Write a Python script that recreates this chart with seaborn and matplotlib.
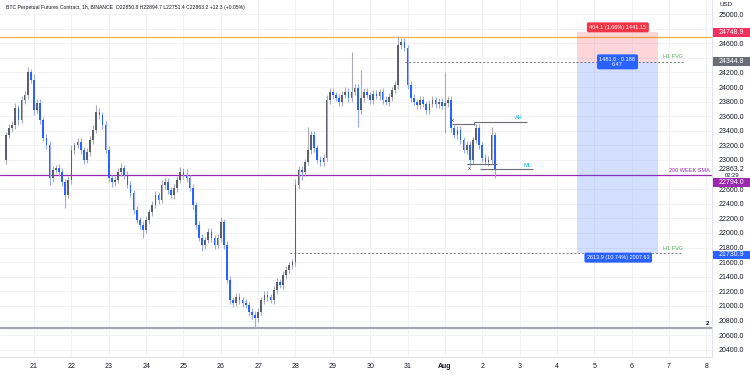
import matplotlib
matplotlib.use("Agg")
import matplotlib.pyplot as plt
import matplotlib.dates as mdates
from matplotlib.transforms import blended_transform_factory
from matplotlib.patches import Rectangle
import numpy as np
import pandas as pd
import seaborn as sns

# ---------------- data (2h candles) ----------------
first_open = 23000
closes = [
    23342, 23438, 23479, 23712, 23548, 23822, 23890, 24205, 24096, 23685,
    23781, 23548, 23301, 23205, 22753, 22863, 22890, 22836, 22699, 22520,
    22726, 23137, 23205, 23247, 23137, 23000, 23110, 23274, 23411, 23658,
    23616, 23479, 23137, 22753, 22699, 22726, 22836, 22890, 22794, 22657,
    22548, 22315, 22178, 22109, 22041, 22178, 22288, 22383, 22520, 22452,
    22657, 22699, 22589, 22520, 22616, 22726, 22836, 22794, 22753, 22616,
    22383, 22109, 21931, 21835, 21904, 22014, 21931, 21835, 21931, 22151,
    21835, 21356, 21082, 21041, 21123, 21082, 21041, 21013, 20918, 20876,
    20835, 20918, 21082, 21150, 21123, 21082, 21219, 21329, 21287, 21424,
    21490, 21560, 21600, 22657, 22863, 22836, 22973, 23137, 23342, 23164,
    23000, 22973, 23027, 23822, 23932, 23890, 23849, 23795, 23890, 23932,
    23849, 23932, 23986, 23685, 23849, 23932, 23890, 23822, 23904, 23877,
    23932, 23822, 23795, 23863, 23959, 24027, 24575, 24617, 24534, 24027,
    23849, 23795, 23753, 23822, 23767, 23685, 23767, 23822, 23767, 23795,
    23740, 23781, 23822, 23438, 23342, 23411, 23274, 23137, 23205, 23000,
    23274, 23438, 23205, 23027, 22973, 23000, 23342, 22863.2,
]
upper_wick = [
    40, 60, 50, 70, 40, 60, 50, 70, 40, 80,
    50, 60, 40, 50, 60, 50, 40, 60, 50, 40,
    60, 70, 40, 50, 60, 40, 50, 60, 70, 100,
    50, 40, 60, 50, 40, 50, 60, 70, 40, 50,
    60, 40, 50, 40, 50, 60, 40, 50, 60, 40,
    70, 50, 60, 40, 50, 60, 70, 50, 80, 40,
    50, 40, 60, 50, 40, 60, 50, 40, 60, 70,
    40, 50, 60, 40, 50, 60, 40, 50, 40, 60,
    50, 60, 40, 50, 60, 40, 50, 60, 40, 50,
    60, 40, 50, 80, 60, 50, 40, 315, 60, 50,
    40, 60, 50, 70, 60, 50, 40, 60, 50, 70,
    60, 550, 60, 50, 380, 60, 50, 40, 60, 50,
    40, 60, 50, 60, 40, 50, 120, 60, 50, 40,
    60, 50, 40, 60, 50, 40, 60, 50, 40, 60,
    50, 430, 60, 50, 40, 60, 50, 40, 60, 50,
    40, 60, 50, 40, 60, 50, 110, 40,
]
lower_wick = [
    50, 40, 60, 50, 70, 40, 50, 60, 40, 70,
    60, 50, 40, 60, 100, 50, 40, 60, 50, 180,
    40, 60, 50, 40, 60, 50, 40, 60, 50, 40,
    60, 50, 40, 60, 70, 50, 40, 60, 50, 40,
    50, 60, 40, 50, 110, 40, 60, 50, 40, 60,
    40, 50, 60, 40, 50, 60, 40, 50, 60, 40,
    60, 50, 40, 80, 60, 40, 50, 60, 40, 50,
    60, 40, 50, 60, 40, 50, 60, 40, 50, 60,
    140, 50, 40, 60, 50, 40, 60, 50, 40, 60,
    50, 40, 60, 50, 60, 110, 50, 40, 60, 50,
    40, 60, 50, 40, 60, 50, 40, 60, 50, 40,
    60, 50, 40, 230, 60, 50, 40, 60, 50, 40,
    60, 50, 40, 60, 50, 40, 60, 50, 40, 60,
    50, 40, 60, 50, 40, 60, 50, 40, 60, 50,
    40, 370, 60, 50, 40, 60, 50, 40, 60, 80,
    50, 40, 60, 50, 40, 60, 50, 112,
]
start_time = "2022-07-20 06:00"
candle_freq = "2h"

day_ticks = list(range(21, 40))
day_labels = ["21", "22", "23", "24", "25", "26", "27", "28", "29", "30", "31",
              "Aug", "2", "3", "4", "5", "6", "7", "8"]
price_ticks = np.arange(20400, 25001, 200)
hidden_price_ticks = [24800, 24400, 22800]   # covered by the price boxes

entry_price = 24344.8
stop_price = 24748.9
target_price = 21730.9
sma200_price = 22794.0
swing_high_line = 24680
range_low_line = 20698
last_price = 22863.2
ah_levels = [23493, 23521]
ml_levels = [22945, 22877]

title_text = ("BTC Perpetual Futures Contract, 1h, BINANCE  O22850.8 H22894.7 "
              "L22751.4 C22863.2 +12.3 (+0.05%)")

# ---------------- frame ----------------
sns.set_theme(style="white")
plt.rcParams['font.family'] = ['Liberation Sans', 'DejaVu Sans']

df = pd.DataFrame({
    "date": pd.date_range(start_time, periods=len(closes), freq=candle_freq),
    "open": [first_open] + closes[:-1],
    "close": closes,
    "uw": upper_wick,
    "lw": lower_wick,
})
df["high"] = df[["open", "close"]].max(axis=1) + df["uw"]
df["low"] = df[["open", "close"]].min(axis=1) - df["lw"]
df["up"] = df["close"] >= df["open"]
df["x"] = mdates.date2num(df["date"])

base = mdates.date2num(pd.Timestamp("2022-07-01"))
def jd(d):
    return base + d - 1

fig = plt.figure(figsize=(7.5, 3.75), dpi=100)
fig.patch.set_facecolor("white")
ax = fig.add_axes([0, 18 / 375, 712 / 750, 357 / 375])
ax.set_facecolor("white")
ymin, ymax = 20301, 25192
ax.set_ylim(ymin, ymax)
ax.set_xlim(jd(20.09), jd(39.15))
ppp = 357 / (ymax - ymin)  # pixels per price unit

# grid
for d in day_ticks:
    ax.axvline(jd(d), color="#f0f2f6", lw=0.7, zorder=0)
for p in price_ticks:
    ax.axhline(p, color="#f0f2f6", lw=0.7, zorder=0)

# candles
up_body, up_wick = "#5d606b", "#a9acb5"
dn_body, dn_wick = "#2962ff", "#94abff"
for is_up, bc, wc in [(True, up_body, up_wick), (False, dn_body, dn_wick)]:
    sub = df[df["up"] == is_up]
    ax.vlines(sub["x"], sub["low"], sub["high"], color=wc, lw=0.8, zorder=2)
    bottoms = sub[["open", "close"]].min(axis=1)
    heights = (sub["close"] - sub["open"]).abs().clip(lower=15)
    ax.bar(sub["x"], heights, bottom=bottoms, width=0.045, color=bc,
           edgecolor="none", zorder=3)

# horizontal levels
ax.axhline(swing_high_line, color="#ffb74d", lw=1.0, zorder=1)
ax.axhline(sma200_price, color="#9c27b0", lw=0.9, zorder=1)
ax.axhline(range_low_line, color="#a3a6af", lw=1.6, zorder=1)
ax.hlines(entry_price, jd(30.93), jd(38.37), color="#787b86", lw=0.7,
          linestyles=(0, (2, 2)), zorder=1)
ax.hlines(target_price, jd(27.85), jd(38.37), color="#787b86", lw=0.7,
          linestyles=(0, (2, 2)), zorder=1)

# position tool
ax.add_patch(Rectangle((jd(35.53), entry_price), jd(37.70) - jd(35.53),
                       stop_price - entry_price, fc="#f23645", alpha=0.2,
                       lw=0, zorder=1))
ax.add_patch(Rectangle((jd(35.53), target_price), jd(37.70) - jd(35.53),
                       entry_price - target_price, fc="#2962ff", alpha=0.2,
                       lw=0, zorder=1))
ax.text(jd(36.63), stop_price + 5 / ppp, "404.1 (1.66%) 1441.15", fontsize=4,
        color="white", ha="center", va="center", zorder=6,
        bbox=dict(boxstyle="round,pad=0.45,rounding_size=0.3", fc="#f23645", ec="none"))
ax.text(jd(36.62), entry_price, "1481.6 - 0.188\n6.47", fontsize=4,
        color="white", ha="center", va="center", linespacing=1.0, zorder=6,
        bbox=dict(boxstyle="round,pad=0.45,rounding_size=0.3", fc="#2962ff", ec="none"))
ax.text(jd(36.64), target_price - 5 / ppp, "2613.9 (10.74%) 2007.63", fontsize=4,
        color="white", ha="center", va="center", zorder=6,
        bbox=dict(boxstyle="round,pad=0.45,rounding_size=0.3", fc="#2962ff", ec="none"))

# labels on chart
ax.text(jd(37.84), entry_price + 5 / ppp, "H1 FVG", fontsize=4, color="#4caf50",
        ha="left", va="center", zorder=6)
ax.text(jd(37.84), target_price + 4 / ppp, "H1 FVG", fontsize=4, color="#4caf50",
        ha="left", va="center", zorder=6)
ax.text(jd(39.09), sma200_price + 5 / ppp, "200 WEEK SMA", fontsize=4,
        color="#9c27b0", ha="right", va="center", zorder=6)
ax.text(jd(39.08), range_low_line + 5 / ppp, "2", fontsize=4.5, color="#131722",
        fontweight="bold", ha="right", va="center", zorder=6)

# AH / ML structure
struct_col = "#6a6d78"
ax.hlines(ah_levels[0], jd(32.19), jd(32.80), color=struct_col, lw=0.8, zorder=4)
ax.hlines(ah_levels[1], jd(32.78), jd(34.20), color=struct_col, lw=0.8, zorder=4)
ax.vlines(jd(32.79), ah_levels[0] - 15, ah_levels[1], color=struct_col, lw=0.8, zorder=4)
ax.hlines(ml_levels[0], jd(32.59), jd(33.39), color=struct_col, lw=0.8, zorder=4)
ax.hlines(ml_levels[1], jd(32.94), jd(34.36), color=struct_col, lw=0.8, zorder=4)
ax.text(jd(33.98), ah_levels[1] + 4 / ppp, "AH", fontsize=4, color="#00bcd4",
        ha="center", va="center", zorder=6)
ax.text(jd(34.22), ml_levels[0] - 1 / ppp, "ML", fontsize=4, color="#00bcd4",
        ha="center", va="center", zorder=6)
ax.text(jd(32.21), ah_levels[1] + 1 / ppp, "x", fontsize=4.5, color="#434651",
        ha="center", va="center", zorder=6)
ax.text(jd(32.67), ml_levels[0] - 4 / ppp, "x", fontsize=4.5, color="#434651",
        ha="center", va="center", zorder=6)

# axes styling
ax.yaxis.tick_right()
ax.set_yticks(price_ticks)
ax.set_yticklabels(["" if v in hidden_price_ticks else f"{v:.1f}" for v in price_ticks])
ax.set_xticks([jd(d) for d in day_ticks])
ax.set_xticklabels(day_labels)
ax.tick_params(axis="y", length=0, pad=5, labelsize=5, labelcolor="#131722")
ax.tick_params(axis="x", length=0, pad=4.5, labelsize=5, labelcolor="#131722")
ax.get_xticklabels()[11].set_fontweight("bold")
for s in ["top", "left"]:
    ax.spines[s].set_visible(False)
for s in ["right", "bottom"]:
    ax.spines[s].set_color("#e0e3eb")
    ax.spines[s].set_linewidth(0.8)

# right axis price boxes
trans = blended_transform_factory(ax.transAxes, ax.transData)
bw = 37 / 712
def axis_box(price, text, fc, tc="white", h_px=9):
    h = h_px / ppp
    ax.add_patch(Rectangle((1.0015, price - h / 2), bw, h, transform=trans,
                           fc=fc, ec="none", clip_on=False, zorder=7))
    ax.text(1.0015 + bw / 2, price, text, transform=trans, ha="center",
            va="center", fontsize=5, color=tc, clip_on=False, zorder=8)

axis_box(stop_price, f"{stop_price:.1f}", "#ef2f5e")
axis_box(entry_price, f"{entry_price:.1f}", "#6a6d78")
# the target label sits just under the 21800 tick label
axis_box(target_price - 2.2 / ppp, f"{target_price:.1f}", "#2962ff", h_px=8)
# the SMA label is pushed below the live price label
axis_box(sma200_price - 7.5 / ppp, f"{sma200_price:.1f}", "#9c27b0")
ax.text(1.0015 + bw / 2, last_price + 0.5 / ppp, f"{last_price:.1f}", transform=trans,
        ha="center", va="center", fontsize=5, color="#131722", clip_on=False, zorder=8)
ax.text(1.0015 + bw / 2, last_price - 5.5 / ppp, "02:29", transform=trans,
        ha="center", va="center", fontsize=4.2, color="#131722", clip_on=False, zorder=8)

# header texts
fig.text(6 / 750, 1 - 7 / 375, title_text, fontsize=3.7, color="#131722",
         ha="left", va="center")
fig.text(720 / 750, 1 - 5 / 375, "USD", fontsize=4.5, color="#131722",
         ha="left", va="center")

fig.savefig("out.png", dpi=100, facecolor="white")
